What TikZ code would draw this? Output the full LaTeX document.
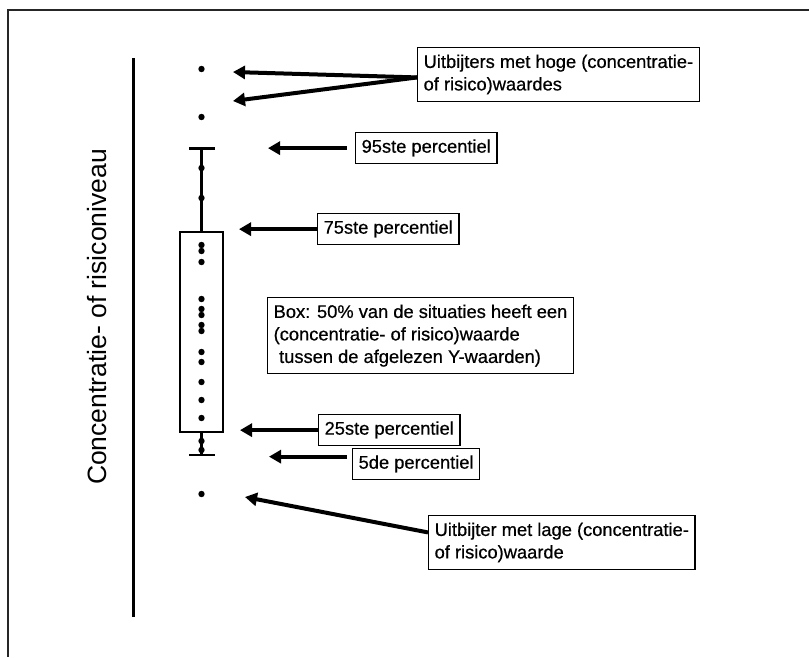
\documentclass[tikz,border=0pt]{standalone}
\usepackage{fontspec}
\setmainfont{Liberation Sans}
\newfontfamily\labelfont{Liberation Sans}[FakeBold=0.6]
\usetikzlibrary{arrows.meta}

\begin{document}
\begin{tikzpicture}[x=1pt,y=-1pt,
  pijl/.style={line width=4pt,-{Triangle[length=12pt,width=13pt]}},
  lbl/.style={draw,line width=1.3pt,anchor=north west,font=\labelfont\fontsize{18.3}{22.5}\selectfont,
    inner xsep=6pt,inner ysep=7pt,text height=13pt,text depth=4pt},
  note/.style={draw,line width=1.3pt,anchor=north west,align=left,
    font=\labelfont\fontsize{18.3}{22.5}\selectfont,inner xsep=6pt,inner ysep=7pt}]
\useasboundingbox (0,0) rectangle (809,657);
% frame and axis
\draw[line width=1.5pt,black!85] (809,10) -- (8,10) -- (8,657);
\draw[line width=3pt] (133,58) -- (133,617);
\node[rotate=90,font=\fontsize{26.5}{30}\selectfont] (ylabel) at (97,317) {Concentratie- of risiconiveau};
% box and whiskers
\draw[line width=2.5pt] (189,148.5) -- (215,148.5);
\draw[line width=2.5pt] (201.5,148.5) -- (201.5,232);
\draw[line width=2.5pt] (180,232) rectangle (223,432);
\draw[line width=2.5pt] (201.5,432) -- (201.5,455);
\draw[line width=2.5pt] (189,455) -- (215,455);
\foreach \y in {69,117,168,198,245,251,262,299,309,315,325,331,352,362,382,400,418,441,450,494}
  \fill (201.5,\y) circle (3.2pt);
% labels
\node[note] (hoog) at (417,47) {Uitbijters met hoge (concentratie-\\of risico)waardes};
\node[lbl] (p95) at (355,132) {95ste percentiel};
\node[lbl] (p75) at (317,213) {75ste percentiel};
\node[note] (boxtekst) at (267,297) {Box: 50\% van de situaties heeft een\\(concentratie- of risico)waarde\\\hspace*{.3em}tussen de afgelezen Y-waarden)};
\node[lbl] (p25) at (318,414) {25ste percentiel};
\node[lbl] (p5) at (352,448) {5de percentiel};
\node[note] (laag) at (428,515) {Uitbijter met lage (concentratie-\\of risico)waarde};
% arrows
\coordinate (h1) at (233,72);
\coordinate (h2) at (233,101);
\coordinate (t95) at (268,149);
\coordinate (t75) at (239,231);
\coordinate (t25) at (240,432);
\coordinate (t5) at (269,456);
\coordinate (tl) at (245,497);
\draw[pijl] ([yshift=-3pt]hoog.west) -- (h1);
\draw[pijl] ([yshift=-3pt]hoog.west) -- (h2);
\draw[pijl] ([xshift=-8pt]p95.west) -- (p95.west -| t95);
\draw[pijl] (p75.west) -- (p75.west -| t75);
\draw[pijl] (p25.west) -- (p25.west -| t25);
\draw[pijl] ([xshift=-5pt,yshift=7.5pt]p5.west) -- ([yshift=7.5pt]p5.west -| t5);
\draw[pijl] ([yshift=10pt]laag.west) -- (tl);
\end{tikzpicture}
\end{document}
